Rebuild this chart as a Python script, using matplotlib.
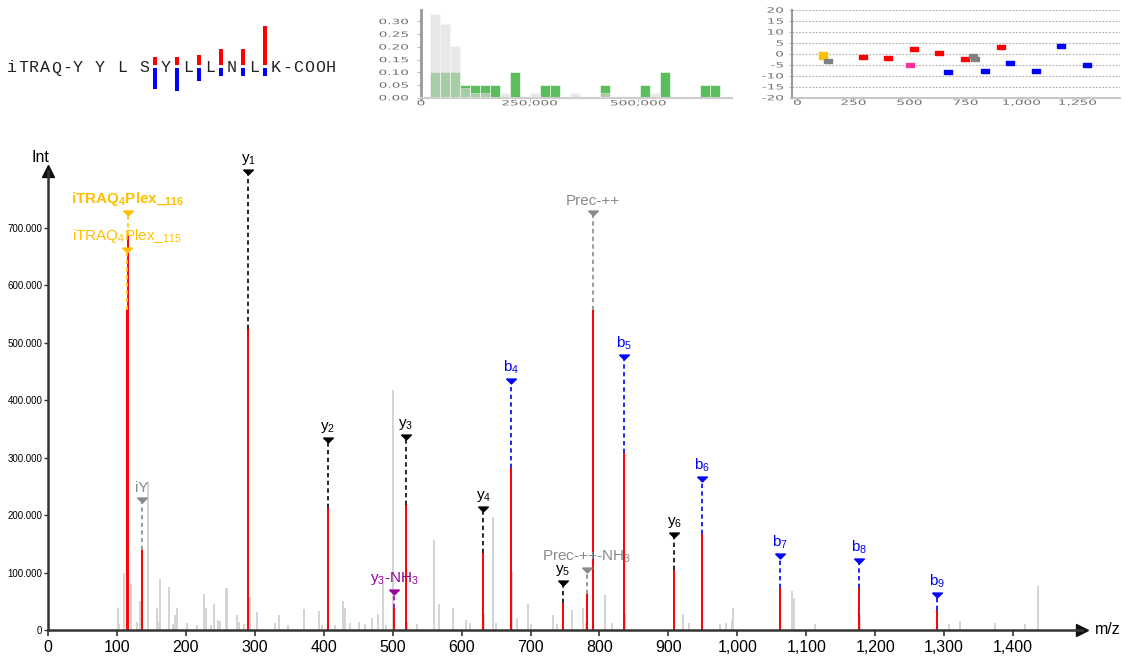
import matplotlib
matplotlib.use("Agg")
import matplotlib.pyplot as plt
from matplotlib.ticker import FuncFormatter, FixedLocator
from matplotlib.textpath import TextPath
from matplotlib.patches import PathPatch
from matplotlib.font_manager import FontProperties
from matplotlib.transforms import Affine2D

plt.rcParams['font.family'] = ['Liberation Sans', 'DejaVu Sans']
plt.rcParams['mathtext.default'] = 'regular'

W, H = 1124, 660

# ---------------- data ----------------
sequence = list("YYLSYLLNLK")

ion_names = ["iTRAQ4Plex_115", "iTRAQ4Plex_116", "iY", "y1", "y2", "y3-NH3", "y3",
             "y4", "b4", "y5", "Prec-++-NH3", "Prec-++", "b5", "y6", "b6", "b7",
             "b8", "b9"]
ion_labels = [r"iTRAQ$_4$Plex_$_{115}$", r"iTRAQ$_4$Plex_$_{116}$", "iY", r"y$_1$",
              r"y$_2$", r"y$_3$-NH$_3$", r"y$_3$", r"y$_4$", r"b$_4$", r"y$_5$",
              r"Prec-++-NH$_3$", "Prec-++", r"b$_5$", r"y$_6$", r"b$_6$", r"b$_7$",
              r"b$_8$", r"b$_9$"]
ion_kind = ["itraq", "itraq", "imm", "y", "y", "nh3", "y", "y", "b", "y", "prec",
            "prec", "b", "y", "b", "b", "b", "b"]
ion_mz = [115.1, 116.1, 136.1, 290.6, 405.7, 502.3, 519.3, 631.6, 671.8, 746.6,
          781.7, 790.2, 836.1, 908.7, 949.2, 1062.4, 1177.0, 1290.0]
ion_int = [557e3, 688e3, 139e3, 525e3, 213e3, 38e3, 218e3, 134e3, 282e3, 47e3,
           63e3, 558e3, 308e3, 104e3, 168e3, 74e3, 74e3, 34e3]
# height at which each label marker sits
ion_label_level = [662e3, 726e3, 226e3, 797e3, 331e3, 66e3, 336e3, 211e3, 434e3,
                   82e3, 104e3, 726e3, 475e3, 165e3, 263e3, 129e3, 120e3, 61e3]
# mass error (ppm)
ion_err = [-0.2, -1.3, -3.1, -1.3, -2.0, -5.1, 2.2, 0.5, -8.4, -2.5, -0.8, -2.5,
           -7.8, 3.3, -4.3, -7.7, 3.7, -5.1]

# unassigned peaks
bg_mz = [101.1, 103.0, 110.9, 114.0, 120.1, 129.0, 133.5, 144.6, 158.6, 160.5,
         162.5, 176.0, 181.0, 183.8, 187.6, 201.0, 216.0, 227.0, 229.0, 236.0,
         241.0, 247.0, 249.0, 258.0, 260.0, 274.0, 277.5, 285.0, 292.6, 303.0,
         330.0, 335.0, 348.0, 371.0, 393.0, 397.0, 416.0, 428.5, 431.0, 438.0,
         451.7, 460.0, 469.6, 478.0, 486.5, 490.0, 501.0, 521.0, 535.0, 560.0,
         567.7, 588.0, 606.0, 612.0, 632.6, 645.0, 650.0, 672.8, 680.0, 697.0,
         700.0, 732.0, 738.0, 760.0, 776.6, 780.0, 791.2, 808.0, 818.0, 837.2,
         921.0, 930.0, 975.0, 983.6, 992.0, 994.0, 1080.0, 1082.0, 1113.0, 1178.0,
         1307.6, 1323.0, 1374.0, 1418.0, 1436.6]
bg_int = [38, 10, 99, 12, 80, 14, 51, 258, 39, 14,
          89, 75, 10, 26, 38, 12, 9, 63, 39, 8,
          45, 17, 15, 73, 73, 26, 14, 10, 58, 31,
          12, 26, 9, 36, 33, 8, 9, 51, 38, 12,
          14, 10, 21, 28, 81, 8, 418, 12, 10, 157,
          45, 38, 17, 12, 28, 197, 12, 101, 21, 45,
          10, 26, 10, 35, 38, 12, 352, 61, 12, 26,
          28, 12, 10, 12, 17, 38, 68, 56, 10, 26,
          10, 16, 12, 10, 77]
bg_int = [v * 1e3 for v in bg_int]

# intensity histogram (fraction of peaks per bin)
hist_start = 20.7e3
hist_width = 23e3
hist_matched = [0.10, 0.10, 0.10, 0.05, 0.05, 0.05, 0.05, 0, 0.10, 0, 0, 0.05, 0.05,
                0, 0, 0, 0, 0.05, 0, 0, 0, 0.05, 0, 0.10, 0, 0, 0, 0.05, 0.05]
hist_unmatched = [0.33, 0.29, 0.205, 0.04, 0.02, 0.02, 0, 0.02, 0, 0, 0.02, 0, 0,
                  0, 0.02, 0, 0, 0.02, 0, 0, 0, 0, 0.02, 0, 0, 0, 0, 0, 0]
hist_yticks = [0, 0.05, 0.10, 0.15, 0.20, 0.25, 0.30]
hist_xticks = [0, 250000, 500000]

err_yticks = list(range(-20, 21, 5))
err_xticks = [0, 250, 500, 750, 1000, 1250]

x_ticks = list(range(0, 1401, 100))
y_ticks = list(range(0, 700001, 100000))

# ---------------- styles ----------------
label_color = {"itraq": "#ffc000", "imm": "#8a8a8a", "y": "#000000", "b": "#0000ff",
               "nh3": "#990099", "prec": "#8a8a8a"}
err_color = {"itraq": "#ffc000", "imm": "#808080", "y": "#ff0000", "b": "#0000ff",
             "nh3": "#ff3399", "prec": "#808080"}


def fig_rect(x0, y0, x1, y1):
    """pixel box (top-left origin) -> figure fraction rect"""
    return [x0 / W, 1 - y1 / H, (x1 - x0) / W, (y1 - y0) / H]


fig = plt.figure(figsize=(W / 100, H / 100), dpi=100)

# wide, short tick labels used by the two small panels
small_fp = FontProperties(family="DejaVu Sans")
_digit = TextPath((0, 0), "0", size=7.2, prop=small_fp).get_extents()


def wide_label(px, py, s, ha="center", va="center", size=7.2, sx=1.9,
               color="#707070"):
    tp = TextPath((0, 0), s, size=size, prop=small_fp)
    ext = tp.get_extents()
    if ha == "right":
        tx = px - ext.x1 * sx
    else:
        tx = px - (ext.x0 + ext.x1) / 2 * sx
    if va == "top":
        ty = py - _digit.y1
    else:
        ty = py - (_digit.y0 + _digit.y1) / 2
    patch = PathPatch(tp, transform=Affine2D().scale(sx, 1).translate(tx, ty),
                      facecolor=color, lw=0)
    fig.add_artist(patch)


# ---------------- main spectrum ----------------
ax = fig.add_axes(fig_rect(48, 170.6, 1082, 630))
ax.set_xlim(0, 1500)
ax.set_ylim(0, 800000)
for s in ("top", "right"):
    ax.spines[s].set_visible(False)
for s in ("left", "bottom"):
    ax.spines[s].set_color("#333333")
    ax.spines[s].set_linewidth(1.8)
ax.plot(1, 0, marker=">", color="#111111", ms=9, transform=ax.transAxes, clip_on=False)
ax.plot(0, 1, marker="^", color="#111111", ms=9, transform=ax.transAxes, clip_on=False)

ax.xaxis.set_major_locator(FixedLocator(x_ticks))
ax.yaxis.set_major_locator(FixedLocator(y_ticks))
ax.xaxis.set_major_formatter(FuncFormatter(lambda v, p: f"{int(v):,}"))
ax.yaxis.set_major_formatter(FuncFormatter(lambda v, p: f"{int(v):,}".replace(",", ".")))
ax.tick_params(axis="x", direction="out", length=4, width=1.2, color="#333333",
               labelsize=11.5, pad=3)
ax.tick_params(axis="y", direction="out", length=3, width=1.0, color="#333333",
               labelsize=7, pad=1)

ax.vlines(bg_mz, 0, bg_int, color="#d4d4d4", lw=1.4, zorder=1)
ax.vlines(ion_mz, 0, ion_int, color="#ff0000", lw=1.4, zorder=2)

tri = [(-1.0, 0.5), (1.0, 0.5), (0.0, -0.5), (-1.0, 0.5)]
for name, lab, kind, mz, inten, lvl in zip(ion_names, ion_labels, ion_kind, ion_mz,
                                           ion_int, ion_label_level):
    c = label_color[kind]
    ax.plot([mz, mz], [inten, lvl], color=c, lw=1.2, dashes=(2.6, 2.0), zorder=3)
    ax.plot(mz, lvl, marker=tri, color=c, ms=7, zorder=4, clip_on=False)
    weight = "bold" if name.endswith("116") else "normal"
    ax.annotate(lab, (mz, lvl), xytext=(0, 3.5), textcoords="offset points",
                ha="center", va="bottom", fontsize=11, color=c, fontweight=weight,
                annotation_clip=False, zorder=5)

fig.text(40 / W, 1 - 158 / H, "Int", ha="center", va="center", fontsize=11.5)
fig.text(1108 / W, 1 - 630 / H, "m/z", ha="center", va="center", fontsize=11.5)

# ---------------- sequence with fragment coverage ----------------
axs = fig.add_axes(fig_rect(0, 0, 360, 110))
axs.set_xlim(0, 360)
axs.set_ylim(110, 0)
axs.axis("off")
chars = list("iTRAQ-") + list(" ".join(sequence)) + list("-COOH")
adv, x_first = 11.0, 12.0
for i, ch in enumerate(chars):
    axs.text(x_first + adv * i, 72.5, ch, ha="center", va="baseline",
             fontsize=12, family="Liberation Mono", color="#222222")

n = len(sequence)
ion_lookup = dict(zip(ion_names, ion_int))
scale_px = 0.0745e-3
min_px = 8.0
for k in range(1, n):
    xb = x_first + adv * (5 + 2 * k)
    b_i = ion_lookup.get(f"b{k}")
    y_i = ion_lookup.get(f"y{n - k}")
    if y_i is not None:
        h = max(y_i * scale_px, min_px)
        axs.bar(xb, -h, bottom=65, width=4, color="#ff0000", lw=0)
    if b_i is not None:
        h = max(b_i * scale_px, min_px)
        axs.bar(xb, h, bottom=68, width=4, color="#0000ff", lw=0)

# ---------------- intensity histogram ----------------
axh = fig.add_axes(fig_rect(421, 10, 731.7, 97.7))
axh.set_xlim(0, 715000)
axh.set_ylim(0, 0.345)
lefts = [hist_start + hist_width * i for i in range(len(hist_matched))]
axh.bar(lefts, hist_matched, width=hist_width, align="edge", color="#5cbd5c",
        edgecolor="white", lw=0.4, zorder=2)
axh.bar(lefts, hist_unmatched, width=hist_width, align="edge", color="#d9d9d9",
        alpha=0.6, edgecolor="white", lw=0.4, zorder=3)
for s in ("top", "right"):
    axh.spines[s].set_visible(False)
axh.spines["left"].set_color("#999999")
axh.spines["left"].set_linewidth(2)
axh.spines["bottom"].set_color("#cccccc")
axh.spines["bottom"].set_linewidth(1.5)
axh.set_yticks(hist_yticks)
axh.set_xticks(hist_xticks)
axh.tick_params(labelleft=False, labelbottom=False, length=3, color="#bbbbbb")
for v in hist_yticks:
    px, py = axh.transData.transform((0, v))
    wide_label(408, py, f"{v:.2f}", ha="right")
for v in hist_xticks:
    px, py = axh.transData.transform((v, 0))
    wide_label(px, H - 100, f"{int(v):,}", va="top")

# ---------------- mass error ----------------
axe = fig.add_axes(fig_rect(792.3, 10, 1120, 97.7))
axe.set_xlim(-23, 1439)
axe.set_ylim(-20, 20)
for yv in range(-15, 21, 5):
    axe.axhline(yv, color="#aaaaaa", lw=0.8, dashes=(1.5, 1.5), zorder=1)
for s in ("top", "right"):
    axe.spines[s].set_visible(False)
axe.spines["left"].set_color("#999999")
axe.spines["left"].set_linewidth(1.5)
axe.spines["bottom"].set_color("#bbbbbb")
axe.spines["bottom"].set_linewidth(1.2)
axe.set_yticks(err_yticks)
axe.set_xticks(err_xticks)
axe.tick_params(labelleft=False, labelbottom=False, length=2, color="#bbbbbb")
for v in err_yticks:
    px, py = axe.transData.transform((0, v))
    wide_label(783, py, f"{v}", ha="right")
for v in err_xticks:
    px, py = axe.transData.transform((v, -20))
    wide_label(px, H - 99.5, f"{v:,}", va="top")
rect = [(-2, -1), (2, -1), (2, 1), (-2, 1), (-2, -1)]
for kind, mz, err in zip(ion_kind, ion_mz, ion_err):
    axe.plot(mz, err, marker=rect, ms=6, color=err_color[kind], lw=0, zorder=3)

fig.savefig("out.png", dpi=100)
